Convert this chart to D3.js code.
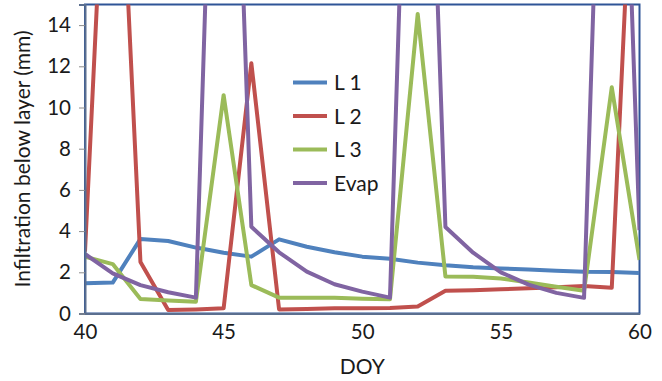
<!DOCTYPE html>
<html>
<head>
<meta charset="utf-8">
<script src="https://cdn.jsdelivr.net/npm/d3@7"></script>
<style>
  html, body { margin: 0; padding: 0; background: #fff; }
  svg { display: block; font-family: Lato, "Open Sans", sans-serif; }
</style>
</head>
<body>
<svg id="chart" width="662" height="381"></svg>
<script>
const doy = [40,41,42,43,44,45,46,47,48,49,50,51,52,53,54,55,56,57,58,59,60];
const seriesNames = ["L 1", "L 2", "L 3", "Evap"];
const seriesColors = ["#4F81BD", "#C0504D", "#9BBB59", "#8064A2"];
const L1 = [1.47,1.5,3.62,3.52,3.2,2.95,2.76,3.6,3.24,2.97,2.76,2.66,2.47,2.34,2.24,2.19,2.14,2.08,2.03,2.02,1.97];
const L2 = [3.0,31,2.5,0.17,0.2,0.25,12.15,0.2,0.22,0.25,0.25,0.27,0.34,1.1,1.13,1.18,1.22,1.27,1.33,1.25,30];
const L3 = [2.76,2.4,0.7,0.63,0.57,10.6,1.38,0.77,0.77,0.77,0.72,0.69,14.54,1.8,1.78,1.7,1.5,1.3,1.1,10.98,2.6];
const Evap = [2.89,1.95,1.38,1.03,0.77,43,4.21,2.97,2.03,1.42,1.06,0.77,43,4.2,2.95,2.0,1.4,1.0,0.76,43,4.05];
const xTicks = [40,45,50,55,60];
const yTicks = [0,2,4,6,8,10,12,14];
const xTitle = "DOY";
const yTitle = "Infiltration below layer (mm)";

const series = [L1, L2, L3, Evap];

const svg = d3.select("#chart");
const mLeft = 85, mRight = 639.5, mTop = 4.5, mBottom = 313.5;

const x = d3.scaleLinear().domain([40, 60]).range([mLeft, mRight]);
const y = d3.scaleLinear().domain([0, 15]).range([mBottom, mTop]);

svg.append("defs").append("clipPath").attr("id", "clip")
  .append("rect").attr("x", mLeft).attr("y", mTop)
  .attr("width", mRight - mLeft).attr("height", mBottom - mTop);

// plot frame
svg.append("rect").attr("x", mLeft).attr("y", mTop)
  .attr("width", mRight - mLeft).attr("height", mBottom - mTop)
  .attr("fill", "none").attr("stroke", "#2F5597").attr("stroke-width", 2);

// lines
const line = d3.line().x((d, i) => x(doy[i])).y(d => y(d));
const g = svg.append("g").attr("clip-path", "url(#clip)");
series.forEach((s, k) => {
  g.append("path").datum(s).attr("d", line)
    .attr("fill", "none").attr("stroke", seriesColors[k])
    .attr("stroke-width", 4).attr("stroke-linejoin", "round").attr("stroke-linecap", "butt");
});

// axes
const xAxis = d3.axisBottom(x).tickValues(xTicks).tickSize(0).tickPadding(11).tickFormat(d3.format("d"));
const yAxis = d3.axisLeft(y).tickValues(yTicks).tickSize(6).tickPadding(8).tickFormat(d3.format("d"));

const gx = svg.append("g").attr("transform", `translate(0,${mBottom})`).call(xAxis);
const gy = svg.append("g").attr("transform", `translate(${mLeft},0)`).call(yAxis);
[gx, gy].forEach(a => {
  a.select(".domain").attr("stroke", "#5B6F8F").attr("stroke-width", 2);
  a.selectAll(".tick line").attr("stroke", "#8C8C8C").attr("stroke-width", 1);
  a.selectAll("text").attr("fill", "#1a1a1a").style("font-size", "20.5px").style("font-family", "Lato, sans-serif");
});
gx.selectAll("text").attr("dy", "0.71em");

// titles
svg.append("text").attr("x", (mLeft + mRight) / 2).attr("y", 374)
  .attr("text-anchor", "middle").attr("fill", "#1a1a1a").style("font-size", "21px").text(xTitle);
svg.append("text").attr("transform", `translate(30,${(mTop + mBottom) / 2 + 0}) rotate(-90)`)
  .attr("text-anchor", "middle").attr("fill", "#1a1a1a").style("font-size", "21px").text(yTitle);

// legend
const leg = svg.append("g");
const legY = [82.5, 116, 149.5, 183];
seriesNames.forEach((n, k) => {
  leg.append("line").attr("x1", 293).attr("x2", 327).attr("y1", legY[k]).attr("y2", legY[k])
    .attr("stroke", seriesColors[k]).attr("stroke-width", 4);
  leg.append("text").attr("x", 334).attr("y", legY[k]).attr("dy", "0.36em")
    .attr("fill", "#1a1a1a").style("font-size", "21px").text(n);
});
</script>
</body>
</html>
